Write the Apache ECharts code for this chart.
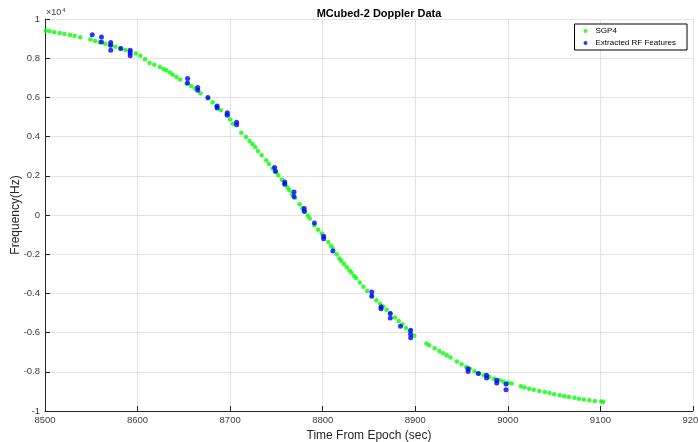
<!DOCTYPE html>
<html><head><meta charset="utf-8">
<script src="https://cdn.jsdelivr.net/npm/echarts@6/dist/echarts.min.js"></script>
<style>html,body{margin:0;padding:0;background:#fff}#c{width:698px;height:442px}</style>
</head><body><div id="c"></div>
<script>
// SGP4 predicted Doppler (time in sec from epoch, frequency in Hz)
const sgp4Time = [8501,8505,8510,8516,8521,8527,8532,8538,8549,8554,8559,8565,8570,8576,8581,8587,8592,8598,8603,8608,8613,8618,8624,8628,8631,8635,8638,8642,8646,8653,8658,8662,8668,8676,8681,8685,8690,8696,8700,8703,8712,8717,8721,8724,8727,8730,8734,8739,8742,8746,8749,8752,8756,8759,8762,8764,8767,8770,8775,8778,8781,8784,8786,8791,8795,8799,8806,8809,8811,8815,8818,8820,8823,8826,8829,8831,8834,8836,8840,8844,8848,8853,8858,8862,8865,8869,8873,8878,8882,8886,8890,8894,8899,8912,8915,8921,8926,8930,8934,8938,8945,8950,8955,8959,8964,8969,8974,8980,8985,8991,8995,9000,9004,9014,9018,9023,9028,9034,9040,9045,9050,9056,9061,9066,9072,9077,9082,9088,9094,9101,9103];
const sgp4Freq = [9400,9370,9330,9290,9240,9180,9130,9070,8950,8880,8810,8740,8660,8580,8500,8420,8340,8240,8130,7950,7760,7660,7550,7450,7380,7270,7160,7040,6910,6700,6580,6450,6200,5940,5750,5540,5350,5140,4870,4660,4200,3980,3780,3620,3470,3270,3050,2790,2600,2370,2200,2030,1800,1600,1400,1260,1060,870,550,350,160,-40,-180,-530,-750,-950,-1380,-1580,-1710,-2000,-2220,-2330,-2500,-2670,-2830,-2940,-3110,-3220,-3440,-3660,-3880,-4130,-4350,-4530,-4660,-4840,-5010,-5230,-5410,-5580,-5760,-5940,-6160,-6550,-6640,-6800,-6940,-7050,-7160,-7270,-7480,-7620,-7750,-7850,-7970,-8090,-8170,-8260,-8350,-8430,-8500,-8560,-8600,-8740,-8800,-8860,-8920,-8980,-9030,-9080,-9140,-9200,-9250,-9290,-9330,-9370,-9410,-9450,-9490,-9520,-9530];
// Extracted RF features
const rfTime = [8551,8561,8561,8571,8571,8571,8582,8592,8592,8592,8654,8654,8665,8665,8676,8686,8686,8697,8697,8707,8707,8748,8749,8759,8759,8769,8769,8780,8780,8791,8801,8801,8811,8853,8853,8863,8863,8873,8873,8884,8895,8895,8895,8957,8957,8968,8977,8977,8988,8988,8998,8998];
const rfFreq = [9200,9080,8830,8800,8660,8400,8490,8400,8270,8130,6960,6730,6500,6360,5990,5560,5460,5220,5090,4730,4610,2420,2230,1680,1570,1170,950,330,190,-410,-1090,-1210,-1840,-3930,-4150,-4690,-4780,-5030,-5260,-5680,-5880,-6090,-6260,-7840,-7980,-8090,-8180,-8320,-8430,-8570,-8620,-8910];

const sgp4 = sgp4Time.map((t,i)=>[t,sgp4Freq[i]]);
const rf = rfTime.map((t,i)=>[t,rfFreq[i]]);
const font = 'Liberation Sans, Arial, Helvetica, sans-serif';
const axCol = '#262626';

const chart = echarts.init(document.getElementById('c'), null, {renderer:'canvas'});
chart.setOption({
  animation:false,
  backgroundColor:'#fff',
  title:{text:'MCubed-2 Doppler Data', left:374, textAlign:'center', top:3,
    textStyle:{fontFamily:font,fontSize:11,fontWeight:'bold',color:'#000'}},
  grid:{left:45,right:5,top:19,bottom:31,containLabel:false,outerBoundsMode:'none'},
  legend:{right:11, top:24, orient:'vertical', itemWidth:10, itemHeight:4, itemGap:4,
    padding:[3,11,3,9], borderColor:'#000', borderWidth:1, backgroundColor:'#fff',
    textStyle:{fontFamily:font,fontSize:8,color:'#000'},
    data:[{name:'SGP4',icon:'circle'},{name:'Extracted RF Features',icon:'circle'}]},
  xAxis:{type:'value', min:8500, max:9200, interval:100,
    name:'Time From Epoch (sec)', nameLocation:'middle', nameGap:15,
    nameTextStyle:{fontFamily:font,fontSize:12,color:axCol},
    axisLine:{onZero:false,lineStyle:{color:axCol,width:1}},
    axisTick:{inside:true,length:5,lineStyle:{color:axCol}},
    axisLabel:{fontFamily:font,fontSize:9.5,color:'#404040',margin:4,formatter:v=>String(v)},
    splitLine:{show:true,lineStyle:{color:'#e3e3e3',width:1}}},
  yAxis:{type:'value', min:-10000, max:10000, interval:2000,
    name:'Frequency(Hz)', nameLocation:'middle', nameGap:23, nameRotate:90, nameMoveOverlap:false,
    nameTextStyle:{fontFamily:font,fontSize:12,color:axCol},
    axisLine:{show:true,onZero:false,lineStyle:{color:axCol,width:1}},
    axisTick:{show:true,inside:true,length:5,lineStyle:{color:axCol}},
    axisLabel:{fontFamily:font,fontSize:9.5,color:'#404040',margin:5,
      formatter:v=>{const r=Math.round(v/1000)/10; return String(r);}},
    splitLine:{show:true,lineStyle:{color:'#e3e3e3',width:1}}},
  graphic:[{type:'text', left:46, top:7,
    style:{text:'{a|×10}{b|4}', rich:{a:{fontFamily:font,fontSize:9,fill:'#404040'},b:{fontFamily:font,fontSize:6,fill:'#404040',verticalAlign:'top',padding:[0,0,5,1]}}}}],
  series:[
    {name:'SGP4', type:'scatter', data:sgp4, symbol:'circle', symbolSize:4.5,
      itemStyle:{color:'#00ff00'}, z:2},
    {name:'Extracted RF Features', type:'scatter', data:rf, symbol:'circle', symbolSize:5,
      itemStyle:{color:'#0000ff'}, z:3}
  ]
});
</script></body></html>
